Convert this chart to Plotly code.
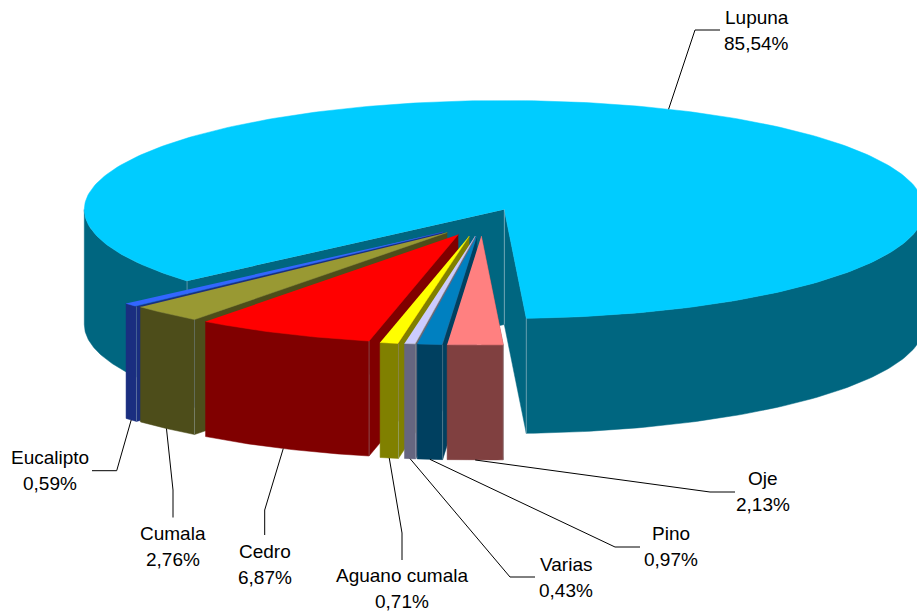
import numpy as np
import plotly.graph_objects as go

# Porcentajes por especie, en sentido horario desde Oje
especies = ["Oje", "Pino", "Varias", "Aguano cumala", "Cedro", "Cumala", "Eucalipto", "Lupuna"]
porcentajes = [2.13, 0.97, 0.43, 0.71, 6.87, 2.76, 0.59, 85.54]

color_cara = ["#FF8080", "#0080C0", "#CCCCFF", "#FFFF00", "#FF0000", "#999933", "#3366FF", "#00CCFF"]
color_lado = ["#804040", "#004060", "#666680", "#808000", "#800000", "#4D4D1A", "#1A2E80", "#006680"]

# Desplazamiento de cada porcion respecto al centro (pixeles)
expl_x = [-23, -27.5, -29, -35, -46, -57, -61, 0]
expl_y = [26.5, 26.5, 26.5, 26.5, 25, 23, 22.5, 0]

# Guias de las etiquetas: codo, fin de la linea, centro del texto
codo = [(710, 492), (615, 547), (510, 577), (402, 533), (264.7, 510), (173, 490), (116.7, 470.7), (695, 30)]
fin = [(735, 492), (640, 547), (535, 577), (402, 560), (264.7, 535), (173, 517.5), (92, 470.7), (720, 30)]
texto = [(762.5, 478), (670.5, 533), (565.5, 564), (401.5, 575), (264.5, 551), (172.5, 533), (50, 457), (756.5, 17)]

cx, cy = 504.3, 209.5
rx, ry = 420, 109
alto = 115
inicio = 3.0  # angulo del primer corte, grados desde el frente


def borde(t, x0, y0, dz=0):
    t = np.radians(t)
    return x0 + rx * np.sin(t), y0 + ry * np.cos(t) + dz


def poligono(fig, x, y, color):
    fig.add_trace(go.Scatter(x=x, y=y, mode="lines", fill="toself", fillcolor=color,
                             line=dict(color=color, width=0.5), hoverinfo="skip", showlegend=False))


def costura(fig, x, y0, y1, color="rgba(170,195,205,0.7)"):
    fig.add_trace(go.Scatter(x=[x, x], y=[y0, y1], mode="lines", line=dict(color=color, width=0.7),
                             hoverinfo="skip", showlegend=False))


fig = go.Figure()

# angulos de cada porcion, negativos hacia la izquierda
grados = np.array(porcentajes) * 3.6
t_a = [inicio]
for g in grados[:-1]:
    t_a.append(t_a[-1] - g)
t_b = [a - g for a, g in zip(t_a, grados)]

# Lupuna primero, va detras de todo
i = len(especies) - 1
t_izq, t_der = t_a[i] + 360, inicio
x0, y0 = cx, cy

# lado curvo izquierdo y derecho
for t1, t2 in [(t_izq, 270), (t_der, 90)]:
    ts = np.linspace(t1, t2, 80)
    xs, ys = borde(ts, x0, y0)
    xb, yb = borde(ts[::-1], x0, y0, alto)
    poligono(fig, list(xs) + list(xb), list(ys) + list(yb), color_lado[i])

# paredes del corte
for t in [t_izq, t_der]:
    xr, yr = borde(t, x0, y0)
    poligono(fig, [x0, xr, xr, x0], [y0, yr, yr + alto, y0 + alto], color_lado[i])

ts = np.linspace(t_der, t_izq, 300)
xs, ys = borde(ts, x0, y0)
poligono(fig, [x0] + list(xs), [y0] + list(ys), color_cara[i])
for t in [t_izq, t_der]:
    xr, yr = borde(t, x0, y0)
    costura(fig, xr, yr, yr + alto)
costura(fig, x0, y0, y0 + alto)

# Porciones separadas, de izquierda a derecha
for i in range(len(especies) - 2, -1, -1):
    ax, ay = cx + expl_x[i], cy + expl_y[i]
    ts = np.linspace(t_a[i], t_b[i], 40)
    xs, ys = borde(ts, ax, ay)
    xb, yb = borde(ts[::-1], ax, ay, alto)
    xr, yr = borde(t_a[i], ax, ay)
    poligono(fig, [ax, xr, xr, ax], [ay, yr, yr + alto, ay + alto], color_lado[i])
    poligono(fig, list(xs) + list(xb), list(ys) + list(yb), color_lado[i])
    poligono(fig, [ax] + list(xs), [ay] + list(ys), color_cara[i])
    costura(fig, xr, yr, yr + alto, "rgba(150,170,180,0.55)")

# Guias y etiquetas
for i, nombre in enumerate(especies):
    medio = (t_a[i] + t_b[i]) / 2
    if i == len(especies) - 1:
        px, py = borde(medio, cx, cy)
    else:
        px, py = borde(medio, cx + expl_x[i], cy + expl_y[i], alto)
    fig.add_trace(go.Scatter(x=[px, codo[i][0], fin[i][0]], y=[py, codo[i][1], fin[i][1]], mode="lines",
                             line=dict(color="#000000", width=1), hoverinfo="skip", showlegend=False))
    valor = f"{porcentajes[i]:.2f}".replace(".", ",") + "%"
    for linea, dy in [(nombre, 0), (valor, 26)]:
        fig.add_annotation(x=texto[i][0], y=texto[i][1] + dy, text=linea, showarrow=False,
                           xanchor="center", yanchor="middle",
                           font=dict(family="Liberation Sans", size=19, color="#000000"))

fig.update_layout(width=917, height=613, margin=dict(l=0, r=0, t=0, b=0),
                  paper_bgcolor="white", plot_bgcolor="white", showlegend=False)
fig.update_xaxes(range=[0, 917], visible=False)
fig.update_yaxes(range=[613, 0], visible=False)

fig.write_html("out.html", config={"displayModeBar": False},
               post_script="document.body.style.margin='0';document.body.style.overflow='hidden';")
